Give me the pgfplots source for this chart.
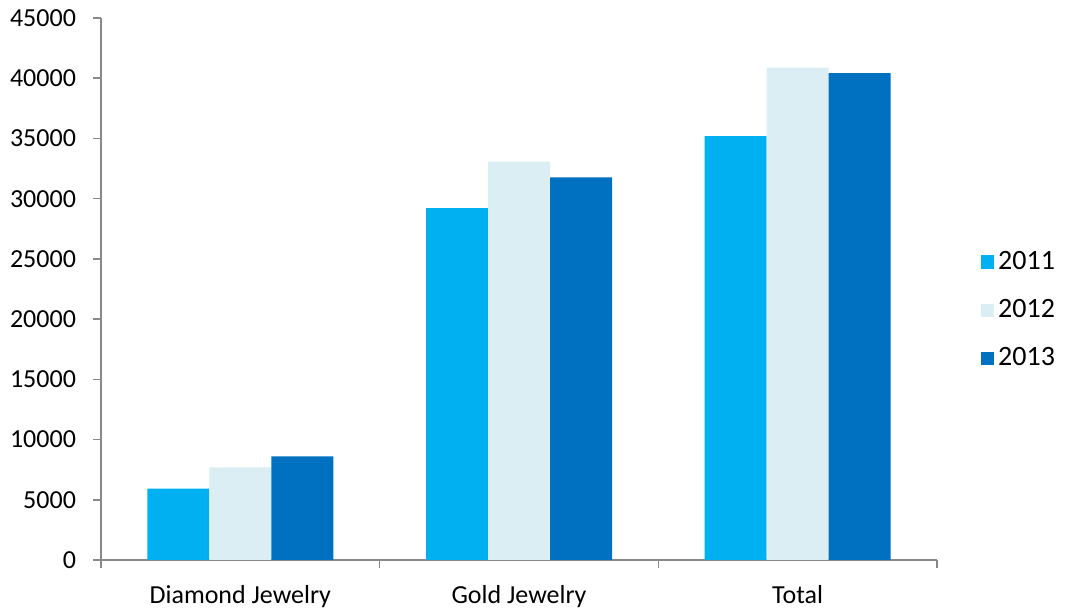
\documentclass[border=0pt]{standalone}
\usepackage{fontspec}
\setmainfont{Carlito}
\usepackage{pgfplots}
\pgfplotsset{compat=1.18}
\definecolor{c2011}{HTML}{00B0F0}
\definecolor{c2012}{HTML}{DAEEF3}
\definecolor{c2013}{HTML}{0070C0}
\definecolor{axgray}{HTML}{898989}
\begin{document}
\fontsize{13}{15}\selectfont
\begin{tikzpicture}
\path[use as bounding box] (-50.5pt,-26.5pt) rectangle (482pt,280pt);
\begin{axis}[
  at={(0pt,0pt)}, anchor=south west,
  scale only axis, width=418pt, height=271pt,
  xmin=-0.5, xmax=2.5, ymin=0, ymax=45000,
  axis x line*=bottom, axis y line*=left,
  axis line style={axgray, line width=0.8pt},
  ybar=0pt, bar width=31pt,
  xtick={-0.5,0.5,1.5,2.5},
  xticklabels={},
  x tick style={axgray, line width=0.8pt},
  extra x ticks={0,1,2},
  extra x tick labels={Diamond Jewelry, Gold Jewelry, Total},
  extra x tick style={major tick length=0pt, tick style={draw=none}},
  xticklabel style={yshift=-8pt},
  ytick={0,5000,...,45000},
  y tick style={axgray, line width=0.8pt},
  tick align=outside, major tick length=4pt,
  yticklabel style={xshift=-4pt},
  scaled y ticks=false,
  /pgf/number format/1000 sep={},
  /pgf/number format/assume math mode=true,
  legend style={at={(1.045,0.461)}, anchor=west, draw=none, fill=none,
    row sep=9pt, font=\fontsize{14}{16}\selectfont},
  legend cell align=left,
  legend image code/.code={\fill[#1] (0pt,-3.3pt) rectangle (6.6pt,3.3pt);},
]
\addplot[fill=c2011, draw=none] coordinates {(0,5920) (1,29220) (2,35200)};
\addplot[fill=c2012, draw=none] coordinates {(0,7690) (1,33070) (2,40880)};
\addplot[fill=c2013, draw=none] coordinates {(0,8600) (1,31770) (2,40420)};
\legend{2011,2012,2013}
\end{axis}
\end{tikzpicture}
\end{document}
